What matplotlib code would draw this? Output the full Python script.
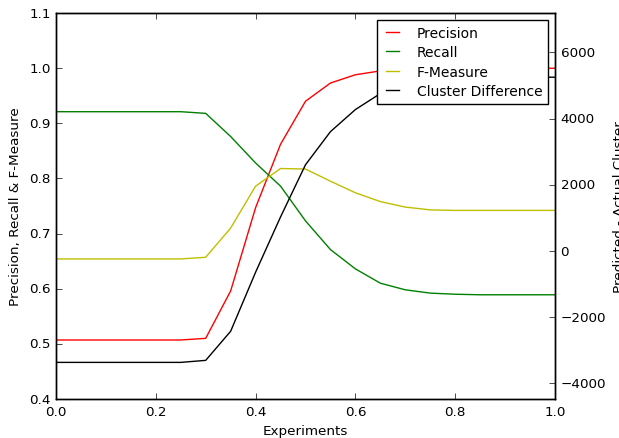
import matplotlib
matplotlib.use("Agg")
import matplotlib.pyplot as plt

plt.style.use("classic")
plt.rcParams["font.family"] = ["DejaVu Sans"]
plt.rcParams["font.size"] = 9.7

x = [0.0, 0.05, 0.1, 0.15, 0.2, 0.25, 0.3, 0.35, 0.4, 0.45, 0.5,
     0.55, 0.6, 0.65, 0.7, 0.75, 0.8, 0.85, 0.9, 0.95, 1.0]
precision = [0.507, 0.507, 0.507, 0.507, 0.507, 0.507, 0.510, 0.596, 0.747, 0.862, 0.940,
             0.973, 0.988, 0.995, 0.998, 0.999, 0.9995, 0.9998, 0.9998, 0.9998, 0.9998]
recall = [0.921, 0.921, 0.921, 0.921, 0.921, 0.921, 0.918, 0.876, 0.828, 0.786, 0.723,
          0.671, 0.636, 0.610, 0.598, 0.592, 0.590, 0.589, 0.589, 0.589, 0.589]
fmeasure = [0.654, 0.654, 0.654, 0.654, 0.654, 0.654, 0.657, 0.710, 0.786, 0.818, 0.817,
            0.795, 0.774, 0.758, 0.748, 0.743, 0.742, 0.742, 0.742, 0.742, 0.742]
cluster_diff = [-3364, -3364, -3364, -3364, -3364, -3364, -3303, -2424, -640, 1030, 2606,
                3606, 4273, 4757, 5000, 5130, 5200, 5230, 5245, 5250, 5250]

fig = plt.figure(figsize=(6.19, 4.39), dpi=100)
fig.patch.set_facecolor("white")
ax = fig.add_axes([56 / 619, 1 - 400 / 439, (555 - 56) / 619, (400 - 14) / 439])
l1, = ax.plot(x, precision, color="r", lw=1, label="Precision")
l2, = ax.plot(x, recall, color="g", lw=1, label="Recall")
l3, = ax.plot(x, fmeasure, color="y", lw=1, label="F-Measure")
ax.set_xlim(0, 1)
ax.set_ylim(0.4, 1.1)
ax.set_xlabel("Experiments")
ax.set_ylabel("Precision, Recall & F-Measure")

ax2 = ax.twinx()
l4, = ax2.plot(x, cluster_diff, color="k", lw=1, label="Cluster Difference")
ax2.set_ylim(-4470, 7190)
ax2.set_yticks([-4000, -2000, 0, 2000, 4000, 6000])
ax2.set_ylabel("Predicted - Actual Cluster")
ax2.set_xlim(0, 1)

leg = ax2.legend([l1, l2, l3, l4], [h.get_label() for h in [l1, l2, l3, l4]],
                 loc="upper right", fontsize=10, handlelength=1.5,
                 handletextpad=1.0, labelspacing=0.4)
leg.get_frame().set_linewidth(1)

fig.savefig("out.png", dpi=100, facecolor="white")
